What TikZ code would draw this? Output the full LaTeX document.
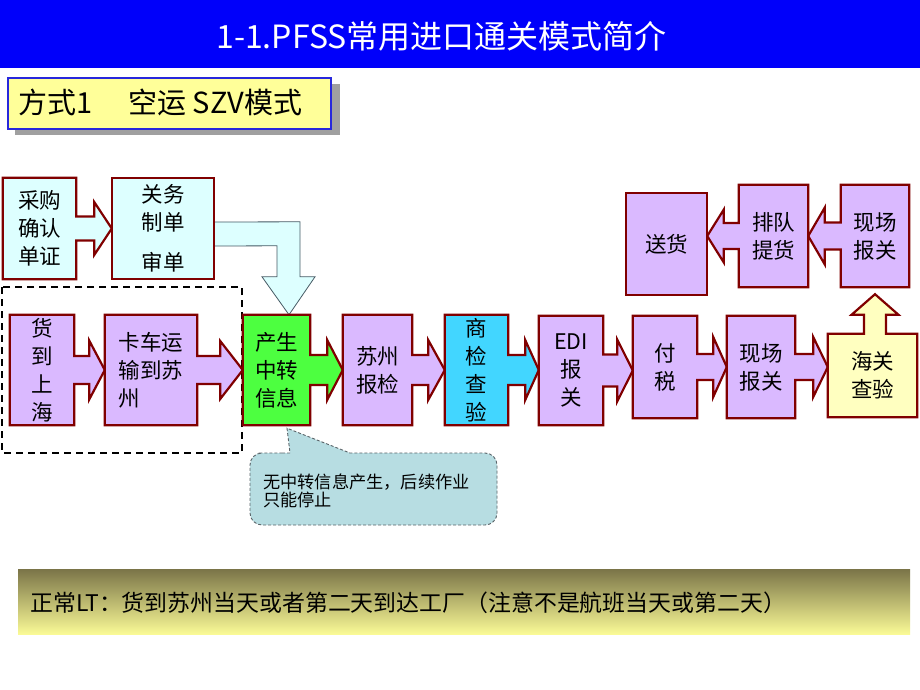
\documentclass[tikz,border=0pt]{standalone}
\usepackage{fontspec}
\setmainfont{Noto Sans CJK SC}
\usetikzlibrary{calc}
\definecolor{dred}{RGB}{128,0,0}
\definecolor{lcyan}{RGB}{221,255,255}
\definecolor{lpurp}{RGB}{218,185,255}
\definecolor{lgreen}{RGB}{77,255,64}
\definecolor{scyan}{RGB}{66,214,255}
\definecolor{lyel}{RGB}{255,255,192}
\definecolor{hyel}{RGB}{255,255,153}
\definecolor{hblue}{RGB}{40,40,220}
\definecolor{tblue}{RGB}{0,0,250}
\definecolor{callfill}{RGB}{183,221,226}
\definecolor{calline}{RGB}{90,100,105}
\definecolor{bendline}{RGB}{70,90,100}
\definecolor{bartop}{RGB}{122,116,72}
\definecolor{barbot}{RGB}{250,250,150}
\definecolor{shadowc}{RGB}{160,160,160}
\pgfdeclarelayer{bg}
\pgfsetlayers{bg,main}
% box with arrow on its right side pointing to #2
\newcommand\shpR[6]{%
  \path[shp,fill=#6] (#1.north west) -- (#1.north east) -- ([yshift=#3pt]#1.east)
    -- ([xshift=#5pt,yshift=#3pt]#1.east) -- ([xshift=#5pt,yshift=#4pt]#1.east)
    -- (#2.west |- #1.east)
    -- ([xshift=#5pt,yshift=-#4pt]#1.east) -- ([xshift=#5pt,yshift=-#3pt]#1.east)
    -- ([yshift=-#3pt]#1.east) -- (#1.south east) -- (#1.south west) -- cycle;}
% box with arrow on its left side pointing to #2
\newcommand\shpL[6]{%
  \path[shp,fill=#6] (#1.north east) -- (#1.north west) -- ([yshift=#3pt]#1.west)
    -- ([xshift=-#5pt,yshift=#3pt]#1.west) -- ([xshift=-#5pt,yshift=#4pt]#1.west)
    -- (#2.east |- #1.west)
    -- ([xshift=-#5pt,yshift=-#4pt]#1.west) -- ([xshift=-#5pt,yshift=-#3pt]#1.west)
    -- ([yshift=-#3pt]#1.west) -- (#1.south west) -- (#1.south east) -- cycle;}
\begin{document}
\begin{tikzpicture}[x=1pt,y=-1pt,
  boxtxt/.style={inner sep=0pt, align=center, font=\fontsize{21.5}{28}\selectfont},
  shp/.style={draw=dred, line width=2.2pt, line join=miter},
  bentarrow/.style={draw=bendline, line width=0.8pt, fill=lcyan, line join=miter},
  callout/.style={draw=calline, line width=0.9pt, dash pattern=on 3pt off 2pt, fill=callfill},
  grp/.style={draw=black, line width=1.8pt, dash pattern=on 7pt off 5pt}]
\useasboundingbox (0,0) rectangle (920,690);

% title bar
\fill[tblue] (0,0) rectangle (920,68);
\node[font=\fontsize{32}{38}\selectfont, text=white, inner sep=0] (title) at (441.5,36) {1-1.PFSS常用进口通关模式简介};

% header box
\fill[shadowc] (15,84) rectangle (340,135);
\node[draw=hblue, line width=2pt, fill=hyel, minimum width=323pt, minimum height=51pt, inner sep=0, anchor=north west] (hdr) at (7,77) {};
\node[font=\fontsize{29}{33}\selectfont, anchor=west, inner sep=0] (hdrtxt) at (18,102.5) {方式1\hspace{36pt}空运 SZV模式};

% boxes
\node[boxtxt, minimum width=73pt, minimum height=101pt] (A1) at (39.5,228.5) {采购\\确认\\单证};
\node[boxtxt, minimum width=102pt, minimum height=101pt] (A2) at (163,228.5) {关务\\制单\\[12pt]审单};
\node[boxtxt, minimum width=64pt, minimum height=110pt] (B1) at (42,370) {货\\到\\上\\海};
\node[boxtxt, align=left, minimum width=92pt, minimum height=110pt] (B2) at (151,370) {卡车运\\输到苏\\州};
\node[boxtxt, minimum width=67pt, minimum height=110pt] (B3) at (276.5,370) {产生\\中转\\信息};
\node[boxtxt, minimum width=69pt, minimum height=110pt] (B4) at (377.5,370) {苏州\\报检};
\node[boxtxt, minimum width=63pt, minimum height=110pt] (B5) at (476.5,370) {商\\检\\查\\验};
\node[boxtxt, minimum width=64pt, minimum height=109pt] (B6) at (571,370.5) {EDI\\报\\关};
\node[boxtxt, minimum width=64pt, minimum height=102pt] (B7) at (665,367) {付\\税};
\node[boxtxt, minimum width=68pt, minimum height=102pt] (B8) at (761,367) {现场\\报关};
\node[boxtxt, minimum width=89pt, minimum height=83pt] (B9) at (872.5,375.5) {海关\\查验};
\node[boxtxt, minimum width=68pt, minimum height=102pt] (C1) at (875,236) {现场\\报关};
\node[boxtxt, minimum width=69pt, minimum height=102pt] (C2) at (773.5,236) {排队\\提货};
\node[boxtxt, minimum width=81pt, minimum height=102pt] (C3) at (666.5,244) {送货};

% callout text
\node[font=\fontsize{17.2}{18.5}\selectfont, align=left, anchor=west, inner sep=0] (note) at (263,491) {无中转信息产生，后续作业\\只能停止};

\coordinate (btip) at ($(B3.north)+(12.5,0)$);
\coordinate (cotip) at ($(B3.south)+(10.5,3)$);
\coordinate (ubase) at (C1.center |- B9.north);
\coordinate (utip) at ($(C1.south)+(0,7)$);

\begin{pgfonlayer}{bg}
  \fill[white] (0,68) rectangle (920,690);
  % dashed group
  \draw[grp] (2,287) rectangle (242,453);
  % bent arrow from A2 to B3
  \path[bentarrow] ($(A2.east)+(0,-6.5)$) -- ($(btip)+(11,-93)$) -- ($(btip)+(11,-38)$)
    -- ($(btip)+(26,-38)$) -- (btip) -- ($(btip)+(-27,-38)$) -- ($(btip)+(-12,-38)$)
    -- ($(btip)+(-12,-69)$) -- ($(A2.east)+(0,17.5)$) -- cycle;
  % callout
  \path[callout] (270,453) -- (290,453) -- (cotip) -- (350,453)
    [rounded corners=12pt] -- (497,453) -- (497,525) -- (250,525) -- (250,453) -- cycle;
  % boxes with arrows
  \shpR{A1}{A2}{12}{26.5}{18}{lcyan}
  \path[shp,fill=lcyan] (A2.north west) rectangle (A2.south east);
  \shpR{B1}{B2}{14}{29.5}{15}{lpurp}
  \shpR{B2}{B3}{14}{29}{23}{lpurp}
  \shpR{B3}{B4}{15}{30}{17}{lgreen}
  \shpR{B4}{B5}{15}{30}{16}{lpurp}
  \shpR{B5}{B6}{15}{30}{17}{scyan}
  \shpR{B6}{B7}{16}{31}{14}{lpurp}
  \shpR{B7}{B8}{13}{30}{16}{lpurp}
  \shpR{B8}{B9}{13}{30}{18}{lpurp}
  \path[shp,fill=lyel] (B9.south west) -- (B9.north west) -- ($(ubase)+(-11,0)$)
    -- ($(ubase)+(-11,-19)$) -- ($(ubase)+(-23.5,-19)$) -- (utip)
    -- ($(ubase)+(23.5,-19)$) -- ($(ubase)+(11,-19)$) -- ($(ubase)+(11,0)$)
    -- (B9.north east) -- (B9.south east) -- cycle;
  \shpL{C1}{C2}{13.5}{28.5}{16}{lpurp}
  \shpL{C2}{C3}{13}{26.5}{15}{lpurp}
  \path[shp,fill=lpurp] (C3.north west) rectangle (C3.south east);
\end{pgfonlayer}

% bottom bar
\shade[top color=bartop, bottom color=barbot] (18,569) rectangle (910,634);
\node[font=\fontsize{22.9}{26}\selectfont, anchor=west, inner sep=0] (lt) at (30,603) {正常LT：货到苏州当天或者第二天到达工厂（注意不是航班当天或第二天）};
\end{tikzpicture}
\end{document}
